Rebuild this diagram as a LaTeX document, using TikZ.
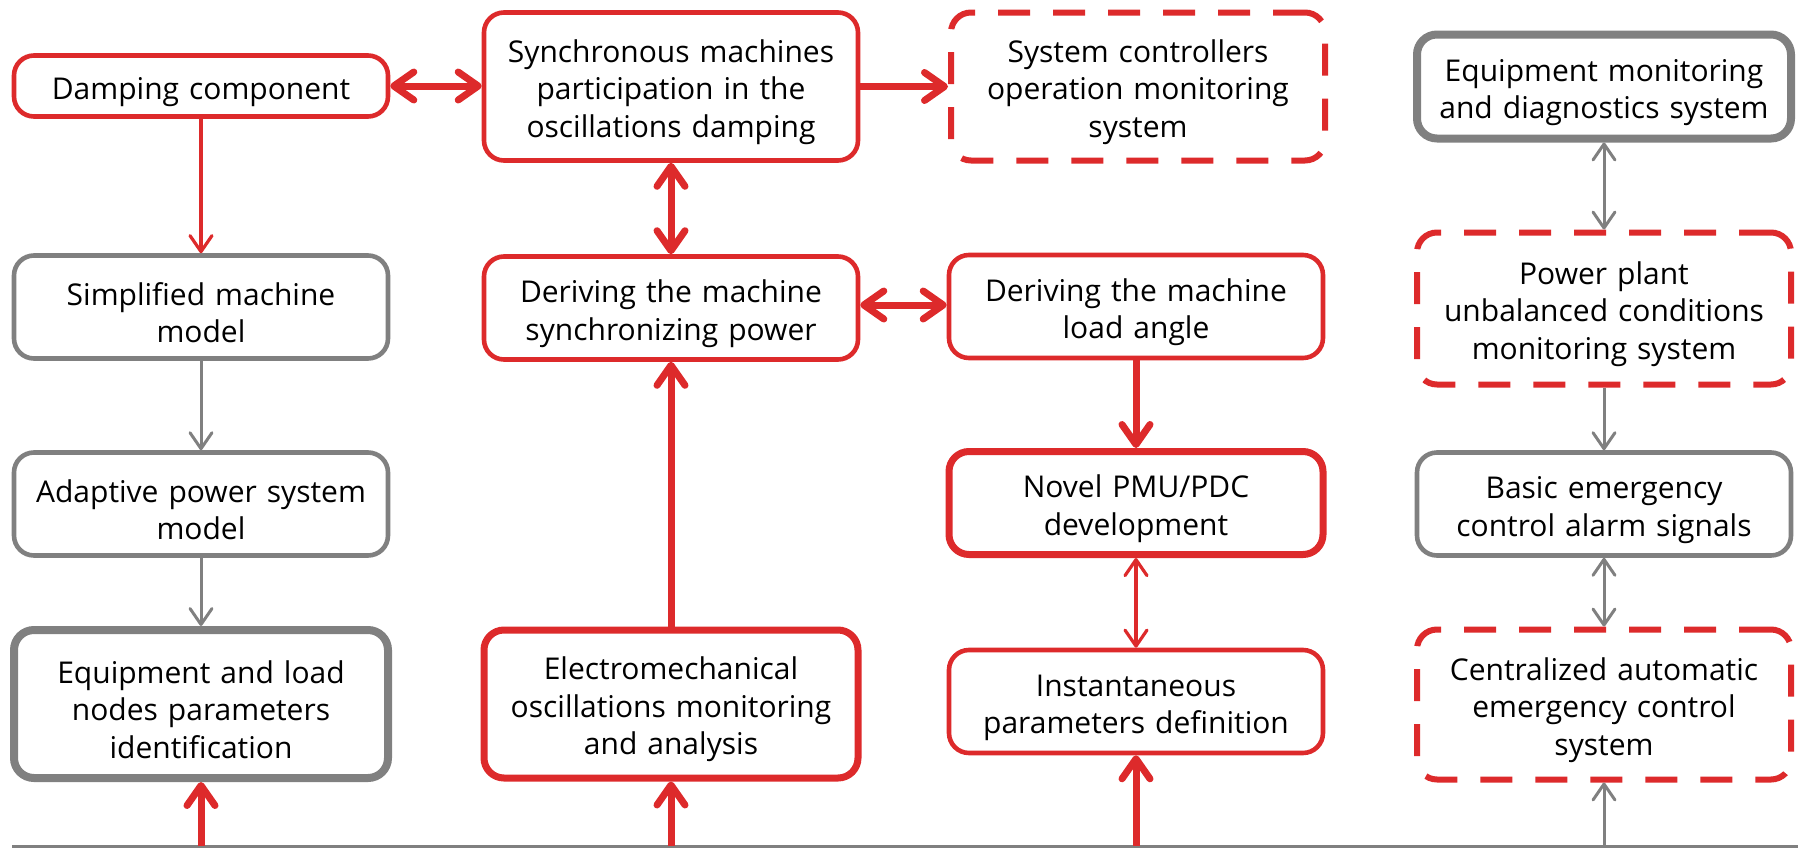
\documentclass[tikz,border=0pt]{standalone}
\usepackage{fontspec}
\setmainfont{Open Sans}
\usetikzlibrary{arrows.meta,calc}
\definecolor{myred}{RGB}{221,42,43}
\definecolor{mygray}{RGB}{128,128,128}
\tikzset{
  box/.style={rounded corners=10pt, fill=white, align=center, inner sep=0pt,
    text width=185pt, minimum width=187pt, font=\fontsize{15}{18.75}\selectfont,
    execute at begin node={\rule{0pt}{17pt}}},
  redbox/.style={box, draw=myred, line width=2.3pt},
  redboxthick/.style={box, draw=myred, line width=3.5pt},
  graybox/.style={box, draw=mygray, line width=2.3pt},
  grayboxthick/.style={box, draw=mygray, line width=4pt},
  dashbox/.style={box, draw=myred, line width=3pt, dash pattern=on 16pt off 11.5pt},
  hshort/.style={minimum height=30.5pt},
  hmid/.style={minimum height=51.5pt},
  htall/.style={minimum height=74pt},
  thickarr/.style={draw=myred, line width=3.5pt, -{Straight Barb[round,length=10pt,width=14pt]}},
  thickdbl/.style={draw=myred, line width=3.5pt, {Straight Barb[round,length=10pt,width=14pt]}-{Straight Barb[round,length=10pt,width=14pt]}},
  thinred/.style={draw=myred, line width=1.6pt, -{Straight Barb[round,length=8pt,width=11pt]}},
  thinreddbl/.style={draw=myred, line width=1.6pt, {Straight Barb[round,length=8pt,width=11pt]}-{Straight Barb[round,length=8pt,width=11pt]}},
  thingray/.style={draw=mygray, line width=1.5pt, -{Straight Barb[round,length=8pt,width=11pt]}},
  thingraydbl/.style={draw=mygray, line width=1.5pt, {Straight Barb[round,length=8pt,width=11pt]}-{Straight Barb[round,length=8pt,width=11pt]}},
}
\begin{document}
\begin{tikzpicture}[x=0.5pt,y=-0.5pt]
\useasboundingbox (0,0) rectangle (1806,847);

% column 1
\node[redbox, hshort] (damp) at (201,86) {Damping component};
\node[graybox, hmid] (simp) at (201,307) {Simplified machine\\model};
\node[graybox, hmid] (adapt) at (201,504) {Adaptive power system\\model};
\node[grayboxthick, htall] (eqload) at (201,704) {Equipment and load\\nodes parameters\\identification};

% column 2
\node[redbox, htall] (sync) at (671,86.5) {Synchronous machines\\participation in the\\oscillations damping};
\node[redbox, hmid] (dsync) at (671,308) {Deriving the machine\\synchronizing power};
\node[redboxthick, htall] (electro) at (671,704) {Electromechanical\\oscillations monitoring\\and analysis};

% column 3
\node[dashbox, htall] (sysctrl) at (1138,86.5) {System controllers\\operation monitoring\\system};
\node[redbox, hmid] (load) at (1136,306.5) {Deriving the machine\\load angle};
\node[redboxthick, hmid] (novel) at (1136,503) {Novel PMU/PDC\\development};
\node[redbox, hmid] (instant) at (1136,701.5) {Instantaneous\\parameters definition};

% column 4
\node[grayboxthick, minimum height=52pt] (eqmon) at (1604,86.5) {Equipment monitoring\\and diagnostics system};
\node[dashbox, minimum height=76pt] (pplant) at (1604,308.5) {Power plant\\unbalanced conditions\\monitoring system};
\node[graybox, hmid] (basic) at (1604,504) {Basic emergency\\control alarm signals};
\node[dashbox, minimum height=75pt] (central) at (1604,704.5) {Centralized automatic\\emergency control\\system};

% bottom line
\coordinate (bl) at (12,846);
\coordinate (br) at (1798,846);
\draw[mygray, line width=1.5pt] (bl) -- (br);

% connectors
\draw[thickdbl] (damp.east) -- (damp.east -| sync.west);
\draw[thickarr] (sync.east) -- (sync.east -| sysctrl.west);
\draw[thickdbl] (sync.south) -- (dsync.north);
\draw[thickdbl] ($(dsync.east)+(0,-3)$) -- ($(dsync.east -| load.west)+(0,-3)$);
\draw[thickarr] (electro.north) -- (dsync.south);
\draw[thickarr] (load.south) -- (novel.north);
\draw[thinreddbl] (novel.south) -- (instant.north);
\draw[thinred] (damp.south) -- (simp.north);
\draw[thingray] (simp.south) -- (adapt.north);
\draw[thingray] (adapt.south) -- (eqload.north);
\draw[thingraydbl] (eqmon.south) -- (pplant.north);
\draw[thingray] (pplant.south) -- (basic.north);
\draw[thingraydbl] (basic.south) -- (central.north);

\draw[thickarr] (eqload.south |- bl) -- (eqload.south);
\draw[thickarr] (electro.south |- bl) -- (electro.south);
\draw[thickarr] (instant.south |- bl) -- (instant.south);
\draw[thingray] (central.south |- bl) -- (central.south);
\end{tikzpicture}
\end{document}
